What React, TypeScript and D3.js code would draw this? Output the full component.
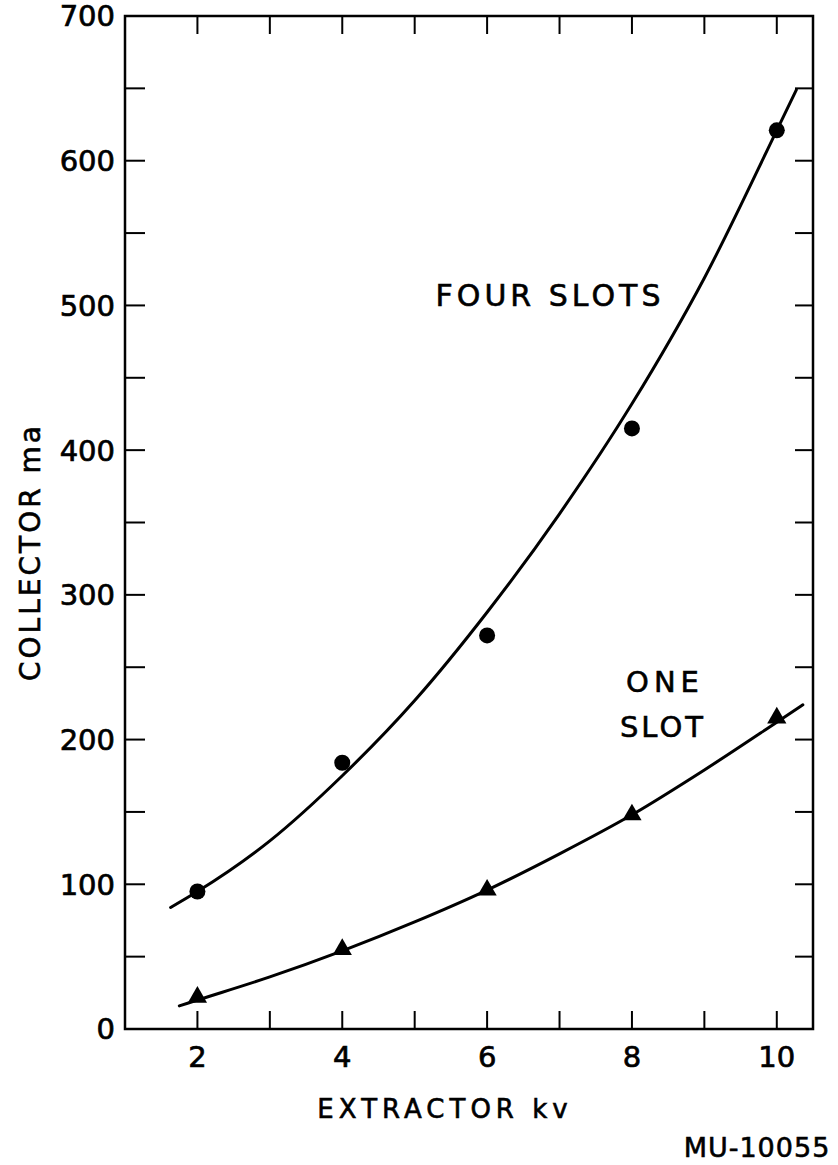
import React, { useEffect, useRef } from 'react';
import * as d3 from 'd3';

// measured points
const kv = [2, 4, 6, 8, 10];
const fourSlots = [95, 184, 272, 415, 621];
const oneSlot = [22, 55, 96, 148, 215];

// hand drawn fit curves
const fourCurveX = [1.63, 2, 3, 4, 5, 6, 7, 8, 9, 10, 10.27];
const fourCurveY = [84, 95, 130, 175, 227, 288, 356, 432, 519, 621, 649];
const oneCurveX = [1.75, 2, 3, 4, 5, 6, 7, 8, 9, 10, 10.36];
const oneCurveY = [16, 20, 36, 54, 74, 96, 121, 148, 179, 212, 224];

const xTicks = [2, 3, 4, 5, 6, 7, 8, 9, 10];
const xLabels = [2, 4, 6, 8, 10];
const yTicks = d3.range(0, 701, 50);
const yLabels = [0, 100, 200, 300, 400, 500, 600, 700];

const font = '"DejaVu Sans", sans-serif';

export default function App() {
  const ref = useRef<SVGSVGElement>(null);

  useEffect(() => {
    const svg = d3.select(ref.current);
    svg.selectAll('*').remove();

    const left = 125, right = 813, top = 16, bottom = 1029;
    const x = d3.scaleLinear().domain([1, 10.5]).range([left, right]);
    const y = d3.scaleLinear().domain([0, 700]).range([bottom, top]);

    // frame
    svg.append('rect')
      .attr('x', left).attr('y', top)
      .attr('width', right - left).attr('height', bottom - top)
      .attr('fill', 'none').attr('stroke', '#000').attr('stroke-width', 2.5);

    // inward ticks
    const tk = svg.append('g').attr('stroke', '#000').attr('stroke-width', 2);
    xTicks.forEach((t) => {
      tk.append('line').attr('x1', x(t)).attr('x2', x(t)).attr('y1', bottom).attr('y2', bottom - 18);
      tk.append('line').attr('x1', x(t)).attr('x2', x(t)).attr('y1', top).attr('y2', top + 18);
    });
    yTicks.forEach((t) => {
      tk.append('line').attr('x1', left).attr('x2', left + 20).attr('y1', y(t)).attr('y2', y(t));
      tk.append('line').attr('x1', right).attr('x2', right - 18).attr('y1', y(t)).attr('y2', y(t));
    });

    // tick labels
    svg.append('g').selectAll('text').data(yLabels).enter().append('text')
      .attr('x', left - 10).attr('y', (d) => y(d))
      .attr('dy', '0.36em').attr('text-anchor', 'end')
      .style('font-family', font).style('font-size', '29px')
      .style('stroke', '#000').style('stroke-width', 0.7)
      .text((d) => d);
    svg.append('g').selectAll('text').data(xLabels).enter().append('text')
      .attr('x', (d) => x(d)).attr('y', 1057).attr('dy', '0.36em')
      .attr('text-anchor', 'middle')
      .style('font-family', font).style('font-size', '29px')
      .style('stroke', '#000').style('stroke-width', 0.7)
      .text((d) => d);

    // curves
    const line = d3.line<[number, number]>()
      .x((d) => x(d[0])).y((d) => y(d[1]))
      .curve(d3.curveMonotoneX);
    svg.append('path')
      .attr('d', line(fourCurveX.map((v, i) => [v, fourCurveY[i]])))
      .attr('fill', 'none').attr('stroke', '#000').attr('stroke-width', 3).attr('stroke-linecap', 'round');
    svg.append('path')
      .attr('d', line(oneCurveX.map((v, i) => [v, oneCurveY[i]])))
      .attr('fill', 'none').attr('stroke', '#000').attr('stroke-width', 3).attr('stroke-linecap', 'round');

    // markers
    svg.append('g').selectAll('circle').data(kv).enter().append('circle')
      .attr('cx', (d) => x(d)).attr('cy', (d, i) => y(fourSlots[i]))
      .attr('r', 8).attr('fill', '#000');
    const tri = d3.symbol().type(d3.symbolTriangle).size(160);
    svg.append('g').selectAll('path').data(kv).enter().append('path')
      .attr('d', tri)
      .attr('transform', (d, i) => `translate(${x(d)},${y(oneSlot[i])})`)
      .attr('fill', '#000');

    // annotations
    const txt = (s: string, tx: number, ty: number, size: number, spacing: number) =>
      svg.append('text').attr('x', tx).attr('y', ty).attr('text-anchor', 'middle')
        .attr('dy', '0.36em')
        .style('font-family', font).style('font-size', size + 'px')
        .style('letter-spacing', spacing + 'px')
        .style('stroke', '#000').style('stroke-width', 0.6)
        .text(s);

    txt('FOUR  SLOTS', 550, 295, 30, 4);
    txt('ONE', 665, 682, 29, 5);
    txt('SLOT', 663, 727, 29, 3);
    txt('EXTRACTOR   kv', 445, 1109, 26, 5);
    txt('MU-10055', 757, 1147, 27, 1);

    svg.append('text')
      .attr('transform', `translate(30,552) rotate(-90)`)
      .attr('text-anchor', 'middle').attr('dy', '0.36em')
      .style('font-family', font).style('font-size', '28px')
      .style('letter-spacing', '3px')
      .style('stroke', '#000').style('stroke-width', 0.6)
      .text('COLLECTOR  ma');
  }, []);

  return (
    <svg ref={ref} width={838} height={1165}
      style={{ position: 'absolute', left: 0, top: 0, background: '#fff' }} />
  );
}
